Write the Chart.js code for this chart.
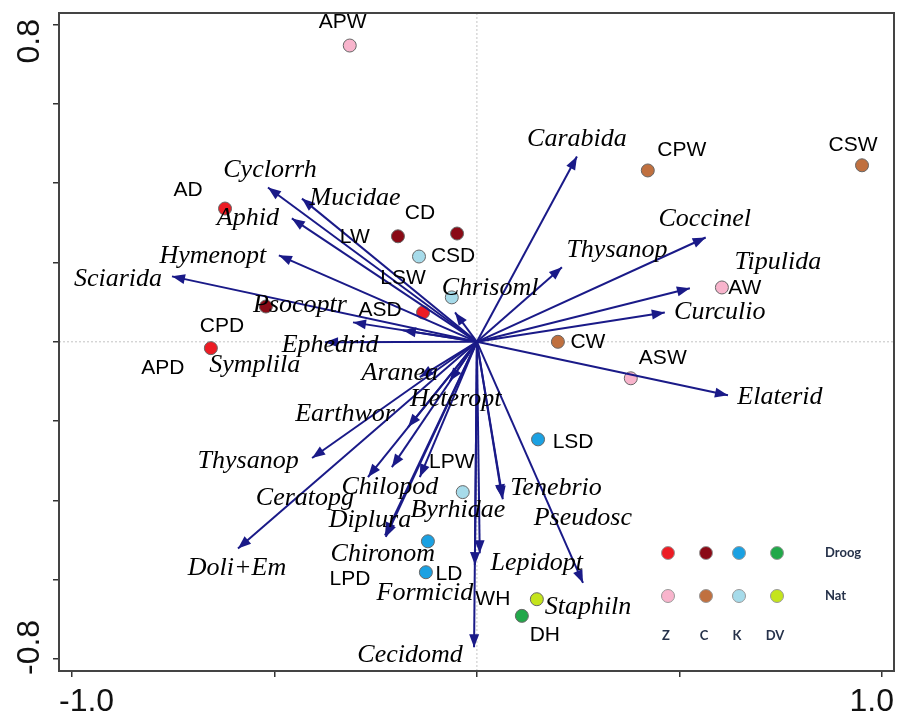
<!DOCTYPE html>
<html lang="en">
<head>
<meta charset="UTF-8">
<title>Biplot</title>
<script src="https://cdn.jsdelivr.net/npm/chart.js"></script>
<style>
  body { margin: 0; background: #fff; }
  #wrap { width: 909px; height: 720px; }
</style>
</head>
<body>
<div id="wrap"><canvas id="biplot" width="909" height="720"></canvas></div>
<script>
  // sample scores
  const sampleNames = ['APW', 'CPW', 'CSW', 'AD', 'CD', 'CSD', 'LSW', 'LW', 'ASD', 'CPD',
                       'APD', 'AW', 'CW', 'ASW', 'LSD', 'LPW', 'LPD', 'LD', 'WH', 'DH'];
  const sampleX = [-0.314, 0.422, 0.951, -0.622, -0.195, -0.049, -0.143, -0.062, -0.133, -0.521,
                   -0.657, 0.605, 0.200, 0.380, 0.151, -0.035, -0.121, -0.126, 0.148, 0.111];
  const sampleY = [0.747, 0.432, 0.445, 0.336, 0.266, 0.273, 0.215, 0.112, 0.074, 0.089,
                   -0.016, 0.137, 0.000, -0.092, -0.246, -0.379, -0.503, -0.581, -0.649, -0.691];
  const sampleGroup = ['Z Nat', 'C Nat', 'C Nat', 'Z Droog', 'C Droog', 'C Droog', 'K Nat', 'K Nat', 'Z Droog', 'C Droog',
                       'Z Droog', 'Z Nat', 'C Nat', 'Z Nat', 'K Droog', 'K Nat', 'K Droog', 'K Droog', 'DV Nat', 'DV Droog'];

  // species arrows
  const speciesNames = ['Cyclorrh', 'Mucidae', 'Aphid', 'Hymenopt', 'Sciarida', 'Psocoptr', 'Symplila', 'Ephedrid',
                        'Chrisoml', 'Carabida', 'Thysanop', 'Coccinel', 'Tipulida', 'Curculio', 'Elaterid',
                        'Aranea', 'Heteropt', 'Earthwor', 'Thysanop', 'Ceratopg', 'Chilopod', 'Byrhidae',
                        'Diplura', 'Chironom', 'Doli+Em', 'Tenebrio', 'Pseudosc', 'Staphiln', 'Lepidopt',
                        'Formicid', 'Cecidomd'];
  const speciesX = [-0.516, -0.432, -0.457, -0.489, -0.753, -0.306, -0.183, -0.375,
                    -0.054, 0.247, 0.210, 0.565, 0.526, 0.464, 0.620,
                    -0.141, -0.067, -0.170, -0.407, -0.269, -0.210, -0.141,
                    -0.227, -0.225, -0.590, 0.062, 0.064, 0.262, 0.007,
                    -0.005, -0.007];
  const speciesY = [0.389, 0.361, 0.311, 0.218, 0.165, 0.049, 0.029, -0.001,
                    0.074, 0.467, 0.188, 0.263, 0.135, 0.074, -0.135,
                    -0.089, -0.099, -0.215, -0.293, -0.341, -0.316, -0.341,
                    -0.488, -0.492, -0.521, -0.392, -0.397, -0.608, -0.533,
                    -0.563, -0.770];

  const xTicks = [-1, -0.5, 0, 0.5, 1];
  const yTicks = [-0.8, -0.6, -0.4, -0.2, 0, 0.2, 0.4, 0.6, 0.8];
  const xTickLabels = ['-1.0', '1.0'];
  const yTickLabels = ['-0.8', '0.8'];

  const legendCols = ['Z', 'C', 'K', 'DV'];
  const legendRows = ['Droog', 'Nat'];

  const groupColors = {
    'Z Droog': '#ec1c24', 'C Droog': '#8a0a16', 'K Droog': '#1ba1e2', 'DV Droog': '#22a84a',
    'Z Nat': '#f8b4cc', 'C Nat': '#c0703f', 'K Nat': '#a6dbea', 'DV Nat': '#c4e41c'
  };

  // label placement (pixel offsets from the mark)
  const sampleLabelOffsets = [[-7, -23], [34, -20], [-9, -20], [-37, -18], [22, -23], [-4, 23], [-16, 22], [-97, -60],
                              [-43, -2], [-44, 20], [-48, 20], [23, 1], [30, 0], [32, -20], [35, 3], [-11, -30],
                              [-78, 38], [23, 2], [-44, 0], [23, 19]];
  const speciesLabelOffsets = [[2, -17], [53, 0], [-44, 0], [-66, 1], [-54, 3], [-53, -17], [-148, 35], [5, 3],
                               [35, -24], [0, -17], [55, -17], [-1, -18], [88, -26], [55, 0], [52, 2],
                               [-20, -4], [6, 18], [-63, -13], [-64, 3], [-63, 21], [-2, 20], [38, 33],
                               [-15, -15], [-3, 17], [-1, 20], [54, -9], [80, 19], [5, 24], [57, 10],
                               [-50, 28], [-64, 8]];

  const arrowColor = '#1a1a88';

  const datasets = [];
  speciesNames.forEach((name, i) => {
    datasets.push({
      label: name,
      type: 'line',
      data: [{x: 0, y: 0}, {x: speciesX[i], y: speciesY[i]}],
      borderColor: arrowColor,
      borderWidth: 2,
      pointRadius: 0,
      fill: false,
      order: 0
    });
  });
  const sampleIndex = datasets.length;
  datasets.push({
    label: 'samples',
    data: sampleX.map((x, i) => ({x: x, y: sampleY[i]})),
    pointRadius: 6.5,
    pointBackgroundColor: sampleGroup.map(g => groupColors[g]),
    pointBorderColor: '#666',
    pointBorderWidth: 1,
    order: 1
  });

  const decorPlugin = {
    id: 'decor',
    beforeDatasetsDraw(chart) {
      const {ctx, chartArea, scales} = chart;
      const x0 = scales.x.getPixelForValue(0);
      const y0 = scales.y.getPixelForValue(0);
      ctx.save();
      ctx.strokeStyle = '#c4c4c4';
      ctx.lineWidth = 1;
      ctx.setLineDash([2, 2]);
      ctx.beginPath();
      ctx.moveTo(x0, chartArea.top);
      ctx.lineTo(x0, chartArea.bottom);
      ctx.moveTo(chartArea.left, y0);
      ctx.lineTo(chartArea.right, y0);
      ctx.stroke();
      ctx.restore();
    },
    afterDatasetsDraw(chart) {
      const {ctx} = chart;
      ctx.save();
      // arrow heads
      ctx.fillStyle = arrowColor;
      speciesNames.forEach((name, i) => {
        const meta = chart.getDatasetMeta(i);
        const a = meta.data[0], b = meta.data[1];
        const ang = Math.atan2(b.y - a.y, b.x - a.x);
        const len = 13, half = 5;
        ctx.beginPath();
        ctx.moveTo(b.x, b.y);
        ctx.lineTo(b.x - len * Math.cos(ang) + half * Math.sin(ang), b.y - len * Math.sin(ang) - half * Math.cos(ang));
        ctx.lineTo(b.x - len * Math.cos(ang) - half * Math.sin(ang), b.y - len * Math.sin(ang) + half * Math.cos(ang));
        ctx.closePath();
        ctx.fill();
      });
      // species labels
      ctx.textAlign = 'center';
      ctx.textBaseline = 'middle';
      ctx.fillStyle = '#000';
      ctx.font = 'italic 26px "Liberation Serif", "DejaVu Serif", serif';
      speciesNames.forEach((name, i) => {
        const b = chart.getDatasetMeta(i).data[1];
        const off = speciesLabelOffsets[i];
        ctx.fillText(name, b.x + off[0], b.y + off[1]);
      });
      // sample labels
      ctx.font = '21px "Liberation Sans", Arial, sans-serif';
      const pts = chart.getDatasetMeta(sampleIndex).data;
      sampleNames.forEach((name, i) => {
        const off = sampleLabelOffsets[i];
        ctx.fillText(name, pts[i].x + off[0], pts[i].y + off[1]);
      });
      ctx.restore();
    },
    afterDraw(chart) {
      const {ctx, chartArea} = chart;
      ctx.save();
      // frame
      ctx.strokeStyle = '#444';
      ctx.lineWidth = 2;
      ctx.strokeRect(chartArea.left, chartArea.top, chartArea.right - chartArea.left, chartArea.bottom - chartArea.top);

      // tick labels, kept inside the frame edges like the original
      ctx.fillStyle = '#111';
      ctx.font = '32px "Liberation Sans", Arial, sans-serif';
      ctx.textBaseline = 'middle';
      ctx.textAlign = 'left';
      ctx.fillText(xTickLabels[0], chartArea.left, 702);
      ctx.textAlign = 'right';
      ctx.fillText(xTickLabels[1], chartArea.right, 702);

      ctx.save();
      ctx.translate(30, chartArea.bottom + 4);
      ctx.rotate(-Math.PI / 2);
      ctx.textAlign = 'left';
      ctx.fillText(yTickLabels[0], 0, 0);
      ctx.restore();
      ctx.save();
      ctx.translate(30, chartArea.top + 6);
      ctx.rotate(-Math.PI / 2);
      ctx.textAlign = 'right';
      ctx.fillText(yTickLabels[1], 0, 0);
      ctx.restore();

      // legend
      const colX = [668, 706, 739, 777];
      const rowY = [553, 596];
      legendRows.forEach((row, r) => {
        legendCols.forEach((col, c) => {
          ctx.beginPath();
          ctx.arc(colX[c], rowY[r], 6.5, 0, Math.PI * 2);
          ctx.fillStyle = groupColors[col + ' ' + row];
          ctx.fill();
          ctx.strokeStyle = '#999';
          ctx.lineWidth = 1;
          ctx.stroke();
        });
        ctx.fillStyle = '#26324a';
        ctx.font = 'bold 13px Lato, "Liberation Sans", sans-serif';
        ctx.textAlign = 'left';
        ctx.fillText(row, 825, rowY[r]);
      });
      ctx.textAlign = 'center';
      legendCols.forEach((col, c) => {
        ctx.fillText(col, colX[c] - 2, 636);
      });
      ctx.restore();
    }
  };

  const chart = new Chart(document.getElementById('biplot'), {
    type: 'scatter',
    data: { datasets: datasets },
    options: {
      responsive: false,
      animation: false,
      layout: { padding: { top: 13, right: 15, left: 0, bottom: 0 } },
      plugins: { legend: { display: false }, tooltip: { enabled: false } },
      scales: {
        x: {
          type: 'linear',
          min: -1.032,
          max: 1.03,
          afterBuildTicks: s => { s.ticks = xTicks.map(v => ({value: v})); },
          afterFit: s => { s.height = 49; },
          ticks: { display: false },
          grid: { drawOnChartArea: false, drawTicks: true, tickLength: 6, color: '#333', lineWidth: 1.5 },
          border: { display: true, color: '#444', width: 2 }
        },
        y: {
          type: 'linear',
          min: -0.83,
          max: 0.829,
          afterBuildTicks: s => { s.ticks = yTicks.map(v => ({value: v})); },
          afterFit: s => { s.width = 59; },
          ticks: { display: false },
          grid: { drawOnChartArea: false, drawTicks: true, tickLength: 6, color: '#333', lineWidth: 1.5 },
          border: { display: true, color: '#444', width: 2 }
        }
      }
    },
    plugins: [decorPlugin]
  });
</script>
</body>
</html>
